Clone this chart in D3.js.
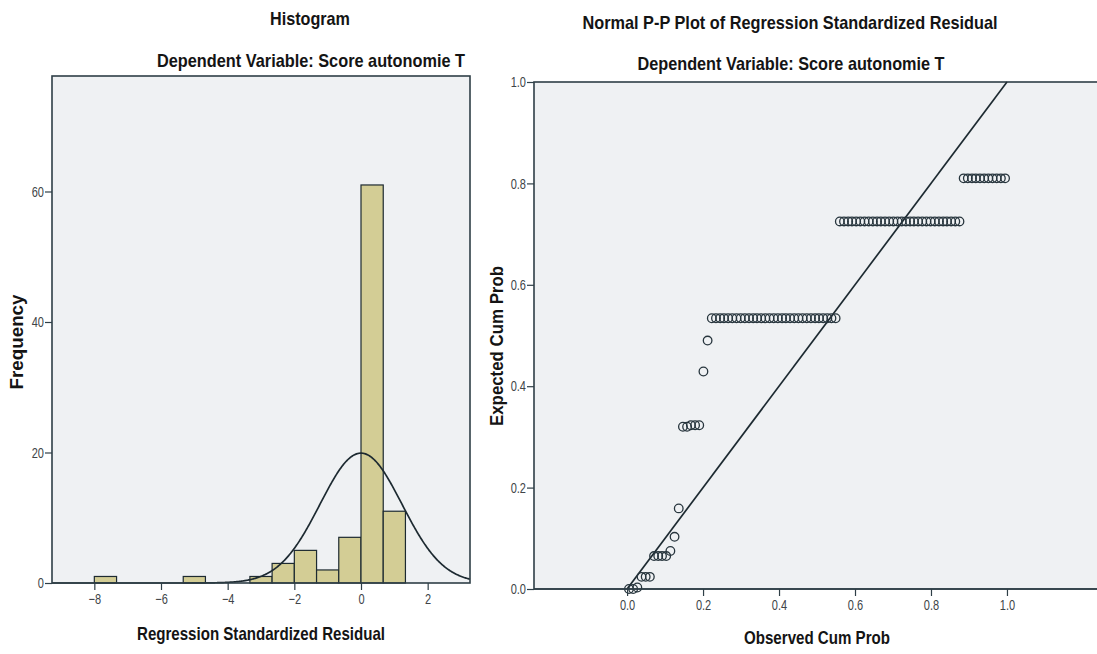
<!DOCTYPE html>
<html>
<head>
<meta charset="utf-8">
<script src="https://cdn.jsdelivr.net/npm/d3@7"></script>
<style>
  html, body { margin: 0; padding: 0; background: #ffffff; }
  svg { display: block; }
  text { font-family: 'Liberation Sans Narrow', 'Arial Narrow', 'Liberation Sans', Arial, sans-serif; }
</style>
</head>
<body>
<svg id="chart" width="1097" height="654"></svg>
<script>
// ---------- Histogram of regression standardized residuals ----------
const binLower = [-8, -5.333, -3.333, -2.667, -2, -1.333, -0.667, 0, 0.667];
const binUpper = [-7.333, -4.667, -2.667, -2, -1.333, -0.667, 0, 0.667, 1.333];
const frequencies = [1, 1, 1, 3, 5, 2, 7, 61, 11];
const histXTicks = [-8, -6, -4, -2, 0, 2];
const histYTicks = [0, 20, 40, 60];
// fitted normal curve: mean, std. deviation, N
const residMean = 0;
const residStdDev = 1.23;
const residN = 92;

// ---------- Normal P-P plot ----------
const observedCumProb = [
  0.005, 0.016, 0.027, 0.038, 0.049, 0.060, 0.071, 0.082, 0.092, 0.103,
  0.114, 0.125, 0.136, 0.147, 0.158, 0.168, 0.179, 0.190, 0.201, 0.212,
  0.223, 0.234, 0.245, 0.255, 0.266, 0.277, 0.288, 0.299, 0.310, 0.321,
  0.332, 0.342, 0.353, 0.364, 0.375, 0.386, 0.397, 0.408, 0.418, 0.429,
  0.440, 0.451, 0.462, 0.473, 0.484, 0.495, 0.505, 0.516, 0.527, 0.538,
  0.549, 0.560, 0.571, 0.582, 0.592, 0.603, 0.614, 0.625, 0.636, 0.647,
  0.658, 0.668, 0.679, 0.690, 0.701, 0.712, 0.723, 0.734, 0.745, 0.755,
  0.766, 0.777, 0.788, 0.799, 0.810, 0.821, 0.832, 0.842, 0.853, 0.864,
  0.875, 0.886, 0.897, 0.908, 0.918, 0.929, 0.940, 0.951, 0.962, 0.973,
  0.984, 0.995
];
const expectedCumProb = [
  0.000, 0.000, 0.003, 0.024, 0.024, 0.024, 0.065, 0.065, 0.065, 0.065,
  0.075, 0.103, 0.159, 0.320, 0.320, 0.323, 0.323, 0.323, 0.429, 0.490,
  0.534, 0.534, 0.534, 0.534, 0.534, 0.534, 0.534, 0.534, 0.534, 0.534,
  0.534, 0.534, 0.534, 0.534, 0.534, 0.534, 0.534, 0.534, 0.534, 0.534,
  0.534, 0.534, 0.534, 0.534, 0.534, 0.534, 0.534, 0.534, 0.534, 0.534,
  0.534, 0.725, 0.725, 0.725, 0.725, 0.725, 0.725, 0.725, 0.725, 0.725,
  0.725, 0.725, 0.725, 0.725, 0.725, 0.725, 0.725, 0.725, 0.725, 0.725,
  0.725, 0.725, 0.725, 0.725, 0.725, 0.725, 0.725, 0.725, 0.725, 0.725,
  0.725, 0.810, 0.810, 0.810, 0.810, 0.810, 0.810, 0.810, 0.810, 0.810,
  0.810, 0.810
];
const ppTicks = [0, 0.2, 0.4, 0.6, 0.8, 1.0];
const referenceLine = [[0, 0], [1, 1]];

// ---------- styling ----------
const plotBg = '#eff1f3';
const frameColor = '#2f3f47';
const barFill = '#d3cd95';
const inkColor = '#1d2a31';
const tickTextColor = '#404448';

const svg = d3.select('#chart');

// squeeze a text element horizontally to give a condensed face
function condense(sel, factor) {
  sel.each(function () {
    const w = this.getComputedTextLength();
    d3.select(this).attr('textLength', w * factor).attr('lengthAdjust', 'spacingAndGlyphs');
  });
}

function styleAxis(g) {
  g.select('.domain').remove();
  g.selectAll('.tick line').attr('stroke', frameColor).attr('stroke-width', 1.2);
  g.selectAll('.tick text')
    .attr('fill', tickTextColor)
    .style('font-size', '14.5px')
    .call(condense, 0.76);
}

// ===== Histogram panel =====
const hx = d3.scaleLinear().domain([-9.27, 3.27]).range([52, 470]);
const hy = d3.scaleLinear().domain([0, 77.7]).range([583, 76]);

const hist = svg.append('g');
hist.append('rect')
  .attr('x', hx.range()[0]).attr('y', hy.range()[1])
  .attr('width', hx.range()[1] - hx.range()[0])
  .attr('height', hy.range()[0] - hy.range()[1])
  .attr('fill', plotBg);

// bars
hist.append('g').selectAll('rect')
  .data(frequencies)
  .join('rect')
  .attr('x', (d, i) => hx(binLower[i]))
  .attr('width', (d, i) => hx(binUpper[i]) - hx(binLower[i]))
  .attr('y', d => hy(d))
  .attr('height', d => hy(0) - hy(d))
  .attr('fill', barFill)
  .attr('stroke', inkColor)
  .attr('stroke-width', 1.2);

// normal curve scaled to the histogram counts
const binWidth = binUpper[0] - binLower[0];
const density = x => residN * binWidth / (residStdDev * Math.sqrt(2 * Math.PI)) *
  Math.exp(-0.5 * Math.pow((x - residMean) / residStdDev, 2));
const curveXs = d3.range(hx.domain()[0], hx.domain()[1] + 0.001, 0.02);
hist.append('path')
  .datum(curveXs)
  .attr('fill', 'none')
  .attr('stroke', inkColor)
  .attr('stroke-width', 1.7)
  .attr('d', d3.line().x(x => hx(x)).y(x => hy(density(x))));

// frame
hist.append('rect')
  .attr('x', hx.range()[0]).attr('y', hy.range()[1])
  .attr('width', hx.range()[1] - hx.range()[0])
  .attr('height', hy.range()[0] - hy.range()[1])
  .attr('fill', 'none')
  .attr('stroke', frameColor)
  .attr('stroke-width', 1.6);

hist.append('g')
  .attr('transform', `translate(0,${hy(0)})`)
  .call(d3.axisBottom(hx).tickValues(histXTicks).tickSize(7).tickPadding(4).tickFormat(d3.format('d')))
  .call(styleAxis);
hist.append('g')
  .attr('transform', `translate(${hx.range()[0]},0)`)
  .call(d3.axisLeft(hy).tickValues(histYTicks).tickSize(7).tickPadding(1).tickFormat(d3.format('d')))
  .call(styleAxis);

// ===== P-P panel =====
const px = d3.scaleLinear().domain([-0.245, 1.237]).range([534, 1097]);
const py = d3.scaleLinear().domain([0, 1]).range([589, 82]);

const pp = svg.append('g');
pp.append('rect')
  .attr('x', px.range()[0]).attr('y', py.range()[1])
  .attr('width', px.range()[1] - px.range()[0] + 10)
  .attr('height', py.range()[0] - py.range()[1])
  .attr('fill', plotBg)
  .attr('stroke', frameColor)
  .attr('stroke-width', 1.6);

pp.append('path')
  .datum(referenceLine)
  .attr('fill', 'none')
  .attr('stroke', inkColor)
  .attr('stroke-width', 1.7)
  .attr('d', d3.line().x(d => px(d[0])).y(d => py(d[1])));

pp.append('g').selectAll('circle')
  .data(observedCumProb)
  .join('circle')
  .attr('cx', d => px(d))
  .attr('cy', (d, i) => py(expectedCumProb[i]))
  .attr('r', 4.3)
  .attr('fill', 'none')
  .attr('stroke', '#27353d')
  .attr('stroke-width', 1.3);

pp.append('g')
  .attr('transform', `translate(0,${py(0)})`)
  .call(d3.axisBottom(px).tickValues(ppTicks).tickSize(7).tickPadding(4).tickFormat(d3.format('.1f')))
  .call(styleAxis);
pp.append('g')
  .attr('transform', `translate(${px.range()[0]},0)`)
  .call(d3.axisLeft(py).tickValues(ppTicks).tickSize(7).tickPadding(1).tickFormat(d3.format('.1f')))
  .call(styleAxis);
// axis baseline over the background
pp.append('line')
  .attr('x1', px.range()[0]).attr('x2', px.range()[1])
  .attr('y1', py(0)).attr('y2', py(0))
  .attr('stroke', frameColor).attr('stroke-width', 1.6);

// ===== titles and axis titles =====
function label(x, y, str, size, width, rotate) {
  const t = svg.append('text')
    .attr('text-anchor', 'middle')
    .attr('dominant-baseline', 'central')
    .attr('fill', '#141414')
    .style('font-weight', 'bold')
    .style('font-size', size + 'px')
    .text(str);
  if (rotate) t.attr('transform', `translate(${x},${y}) rotate(-90)`);
  else t.attr('x', x).attr('y', y);
  if (width) t.attr('textLength', width).attr('lengthAdjust', 'spacingAndGlyphs');
  return t;
}

label(310, 18, 'Histogram', 18.5, 80);
label(311, 60, 'Dependent Variable: Score autonomie T', 18.5, 308);
label(261, 633, 'Regression Standardized Residual', 18.5, 248);
label(17, 342, 'Frequency', 17.5, 95, true);

label(790, 22, 'Normal P-P Plot of Regression Standardized Residual', 18.5, 415);
label(791, 63, 'Dependent Variable: Score autonomie T', 18.5, 307);
label(817, 637, 'Observed Cum Prob', 18.5, 146);
label(497, 346, 'Expected Cum Prob', 17.5, 160, true);
</script>
</body>
</html>
